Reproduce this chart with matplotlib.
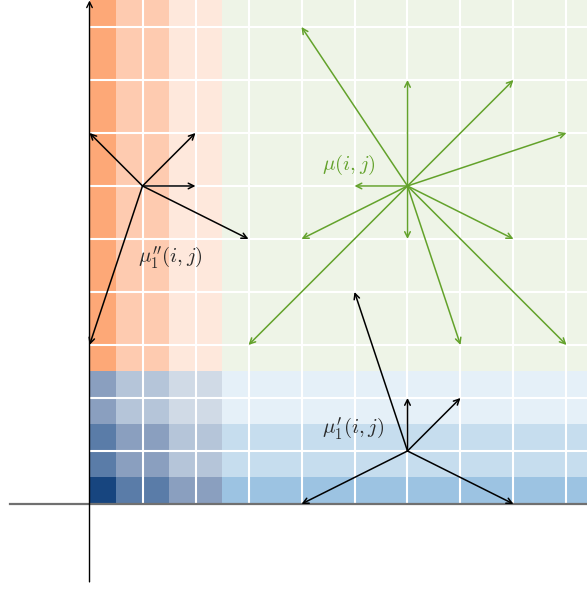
import matplotlib
matplotlib.use('Agg')
import matplotlib.pyplot as plt
import numpy as np

plt.rcParams['mathtext.fontset'] = 'cm'

# --- shaded bands ---
band_edges = [0, 0.5, 1.5, 2.5]
orange_cols = ['#FDA877', '#FECBB0', '#FEE8DC']
green_bg = '#EEF4E7'
# bottom-left block colours, rows (bottom->top) x cols (left->right), last col = x >= 2.5
blue_block = [['#17457F', '#5A7CA8', '#8A9FBF', '#9CC3E2'],
              ['#5A7CA8', '#8A9FBF', '#B5C5D9', '#C6DDEE'],
              ['#8A9FBF', '#B5C5D9', '#D0DAE6', '#E5F0F8']]
x_max, y_max = 9.5, 9.5
grid_pos = range(1, 10)

# --- vector fields ---
mu_origin = (6, 6)
mu_tips = [(4, 9), (6, 8), (8, 8), (9, 7), (5, 6), (4, 5), (6, 5), (8, 5),
           (3, 3), (7, 3), (9, 3)]
mu1pp_origin = (1, 6)
mu1pp_tips = [(0, 7), (2, 7), (2, 6), (3, 5), (0, 3)]
mu1p_origin = (6, 1)
mu1p_tips = [(5, 4), (6, 2), (7, 2), (4, 0), (8, 0)]

green = '#63A22B'

fig = plt.figure(figsize=(5.87, 5.90), dpi=100)
ax = fig.add_axes([0, 0, 1, 1])
ax.set_xlim(-1.689, 9.387)
ax.set_ylim(-1.623, 9.509)
ax.axis('off')

# green region
ax.add_patch(plt.Rectangle((2.5, 2.5), x_max - 2.5, y_max - 2.5, color=green_bg, lw=0))
# orange columns
for k, c in enumerate(orange_cols):
    ax.add_patch(plt.Rectangle((band_edges[k], 2.5), band_edges[k + 1] - band_edges[k],
                               y_max - 2.5, color=c, lw=0))
# blue rows / block
col_edges = band_edges + [x_max]
for r in range(3):
    for k in range(4):
        ax.add_patch(plt.Rectangle((col_edges[k], band_edges[r]), col_edges[k + 1] - col_edges[k],
                                   band_edges[r + 1] - band_edges[r], color=blue_block[r][k], lw=0))

# white grid
for g in grid_pos:
    ax.plot([g, g], [0, y_max], color='white', lw=1.5, zorder=2)
    ax.plot([0, x_max], [g, g], color='white', lw=1.5, zorder=2)

# axes lines
ax.plot([-1.5, x_max], [0, 0], color='#707070', lw=1.6, zorder=3)
ax.annotate('', xy=(0, 9.5), xytext=(0, -1.47),
            arrowprops=dict(arrowstyle='->', color='black', lw=1.0, shrinkA=0, shrinkB=0), zorder=4)


def draw_field(origin, tips, color):
    for t in tips:
        ax.annotate('', xy=t, xytext=origin,
                    arrowprops=dict(arrowstyle='->', color=color, lw=1.1,
                                    shrinkA=0, shrinkB=0), zorder=5)


draw_field(mu_origin, mu_tips, green)
draw_field(mu1pp_origin, mu1pp_tips, 'black')
draw_field(mu1p_origin, mu1p_tips, 'black')

ax.text(4.9, 6.4, r'$\mu(i,j)$', color=green, fontsize=15, ha='center', va='center', zorder=6)
ax.text(1.53, 4.65, r"$\mu_1''(i,j)$", color='#2a2a2a', fontsize=15, ha='center', va='center', zorder=6)
ax.text(4.98, 1.42, r"$\mu_1'(i,j)$", color='#2a2a2a', fontsize=15, ha='center', va='center', zorder=6)

plt.savefig('out.png', dpi=100)
